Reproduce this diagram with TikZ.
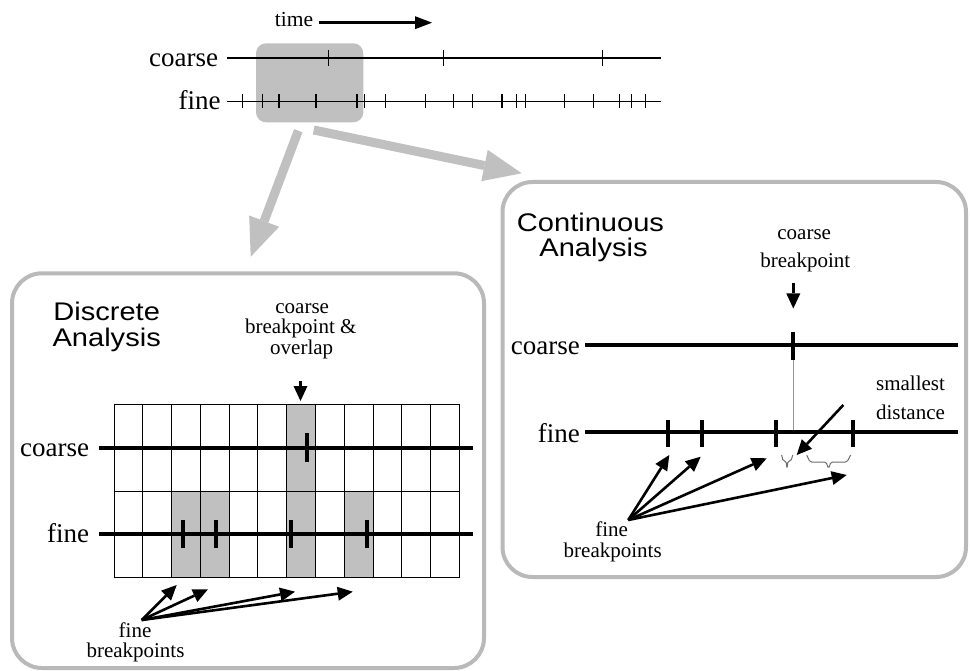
\documentclass[tikz,border=0pt]{standalone}
\usepackage{fontspec}
\setmainfont{Liberation Serif}
\newfontfamily\hv[FakeStretch=1.14]{Liberation Sans}
\usetikzlibrary{arrows.meta}
\definecolor{boxgray}{RGB}{185,185,185}
\definecolor{arrgray}{RGB}{192,192,192}
\definecolor{cellgray}{RGB}{192,192,192}
\definecolor{bracegray}{RGB}{110,110,110}
\definecolor{linegray}{RGB}{150,150,150}
\begin{document}
\begin{tikzpicture}[x=1pt,y=-1pt,
  lbl/.style={inner sep=0pt, font=\fontsize{27}{27}\selectfont},
  small/.style={inner sep=0pt, font=\fontsize{21}{21}\selectfont},
  titletext/.style={inner sep=0pt, font=\hv\fontsize{25.5}{26}\selectfont},
  thinline/.style={line width=1.2pt},
  thickline/.style={line width=4pt},
  tickthin/.style={line width=1.1pt},
  tickthick/.style={line width=4pt},
  panel/.style={draw=boxgray, line width=4pt, fill=white, rounded corners=30pt, inner sep=0pt},
  bigarrow/.style={draw=arrgray, line width=9pt, -{Triangle[length=38pt,width=32pt,line width=0pt]}},
  blackarrow/.style={line width=2.6pt, -{Triangle[length=15pt,width=14pt,line width=0pt]}},
  gridline/.style={line width=0.9pt},
  bracestyle/.style={draw=bracegray, line width=1pt, rounded corners=1.5pt},
]
\useasboundingbox (0,0) rectangle (970,671);

% ---------------- top timelines ----------------
\node[fill=cellgray, rounded corners=10pt, minimum width=107.3pt, minimum height=79pt, inner sep=0pt] (sel) at (309.65,82.8) {};

\node[small, font=\fontsize{21.5}{21.5}\selectfont, anchor=base east] (time) at (313.3,26.7) {time};
\coordinate (ts) at (319,22.7);
\coordinate (te) at (432,22.7);
\draw[line width=2.5pt, -{Triangle[length=17pt,width=13pt,line width=0pt]}] (ts) -- (te);

\node[lbl, anchor=base east] (tcoarse) at (218.3,66.5) {coarse};
\node[lbl, anchor=base east] (tfine) at (220.7,110) {fine};
\coordinate (tcs) at (227,58);
\coordinate (tce) at (661,58);
\coordinate (tfs) at (227,101.5);
\coordinate (tfe) at (661,101.5);
\draw[thinline] (tcs) -- (tce);
\draw[thinline] (tfs) -- (tfe);
\foreach \x in {328.3,443.3,602.7} \draw[tickthin] (\x,50) -- (\x,66);
\foreach \x in {242.3,262.3,279,316,357,364.3,385.7,425.7,453.3,472.3,502,516.7,525.7,564.3,593.3,619.3,631.7,645.3}
  \draw[tickthin] (\x,94.5) -- (\x,108.5);

% ---------------- big gray arrows ----------------
\coordinate (a1s) at (298.3,130.7);
\coordinate (a1e) at (250.7,256.7);
\coordinate (a2s) at (313.7,130);
\coordinate (a2e) at (521.7,173.3);
\draw[bigarrow] (a1s) -- (a1e);
\draw[bigarrow] (a2s) -- (a2e);

% ---------------- panels ----------------
\node[panel, minimum width=472pt, minimum height=394.7pt] (dpanel) at (248,470.65) {};
\node[panel, minimum width=463.5pt, minimum height=395pt] (cpanel) at (734.25,379.5) {};

% ---------------- discrete analysis ----------------
\node[titletext, anchor=base] (dt1) at (106.7,320.3) {Discrete};
\node[titletext, anchor=base] (dt2) at (106.7,346.7) {Analysis};

\node[small, anchor=base] (dl1) at (302.2,314) {coarse};
\node[small, anchor=base] (dl2) at (300.8,334) {breakpoint \&};
\node[small, anchor=base] (dl3) at (301.7,354) {overlap};
\coordinate (dds) at (300.5,381);
\coordinate (dde) at (300.5,401);
\draw[blackarrow, line width=2.4pt] (dds) -- (dde);

% gray cells
\fill[cellgray] (286.7,404.3) rectangle (315.5,577.7);
\fill[cellgray] (171.6,491.7) rectangle (229.1,577.7);
\fill[cellgray] (344.2,491.7) rectangle (373.0,577.7);
% grid
\foreach \i in {0,...,12} \draw[gridline] ({114+\i*28.775},404.3) -- ({114+\i*28.775},577.7);
\foreach \y in {404.3,491.7,577.7} \draw[gridline] (114,\y) -- (459.3,\y);

\node[lbl, anchor=base east] (dcoarse) at (89.3,456) {coarse};
\node[lbl, anchor=base east] (dfine) at (89.3,542.7) {fine};
\coordinate (dcs) at (99,447.7);
\coordinate (dce) at (472.7,447.7);
\coordinate (dfs) at (99,534);
\coordinate (dfe) at (472.7,534);
\draw[thickline] (dcs) -- (dce);
\draw[thickline] (dfs) -- (dfe);
\draw[tickthick] (306.7,433) -- (306.7,462);
\foreach \x in {182.7,216,290.7,367.3} \draw[tickthick] (\x,520) -- (\x,548);

\coordinate (dfo) at (141.7,620);
\coordinate (dft1) at (176.7,585);
\coordinate (dft2) at (208,589.3);
\coordinate (dft3) at (295,591.7);
\coordinate (dft4) at (352.7,591.7);
\foreach \t in {dft1,dft2,dft3,dft4} \draw[blackarrow] (dfo) -- (\t);
\node[small, anchor=base] (dfb1) at (135,637.3) {fine};
\node[small, anchor=base] (dfb2) at (135.5,657.3) {breakpoints};

% ---------------- continuous analysis ----------------
\node[titletext, anchor=base] (ct1) at (590.5,231.7) {Continuous};
\node[titletext, anchor=base] (ct2) at (593.5,256.7) {Analysis};

\node[small, anchor=base] (cl1) at (804.2,240) {coarse};
\node[small, anchor=base] (cl2) at (805.3,267.3) {breakpoint};
\coordinate (cds) at (793.3,283);
\coordinate (cde) at (793.3,308.5);
\draw[blackarrow, line width=2.4pt] (cds) -- (cde);

\node[lbl, anchor=base east] (ccoarse) at (580,355) {coarse};
\node[lbl, anchor=base east] (cfine) at (580,442.7) {fine};
\coordinate (ccs) at (585,345);
\coordinate (cce) at (958,345);
\coordinate (cfs) at (585,432.3);
\coordinate (cfe) at (958,432.3);
\coordinate (cv1) at (793,360);
\coordinate (cv2) at (793,432.3);
\draw[draw=linegray, line width=0.9pt] (cv1) -- (cv2);
\draw[thickline] (ccs) -- (cce);
\draw[thickline] (cfs) -- (cfe);
\draw[tickthick] (792.7,331.7) -- (792.7,360);
\foreach \x in {668.3,701.7,776,852.7} \draw[tickthick] (\x,420) -- (\x,446.7);

\node[small, anchor=base] (sd1) at (910.5,390.7) {smallest};
\node[small, anchor=base] (sd2) at (910.5,419) {distance};
\coordinate (sds) at (843.3,405);
\coordinate (sde) at (796.7,455);
\draw[blackarrow] (sds) -- (sde);

% braces
\draw[bracestyle] (781.7,455) -- (783,461) -- (786,461) -- (787,468.5) -- (788,461) -- (791,461) -- (792.7,455);
\draw[bracestyle] (806.7,455) -- (810,462) -- (826,462) -- (828.5,468.5) -- (831,462) -- (847,462) -- (850.7,455);

\coordinate (cfo) at (628.3,520);
\coordinate (cft1) at (669.3,455);
\coordinate (cft2) at (700.7,456.7);
\coordinate (cft3) at (766.7,458.3);
\coordinate (cft4) at (846.7,475);
\foreach \t in {cft1,cft2,cft3,cft4} \draw[blackarrow] (cfo) -- (\t);
\node[small, anchor=base] (cfb1) at (611.7,536.7) {fine};
\node[small, anchor=base] (cfb2) at (612.7,557.3) {breakpoints};

\end{tikzpicture}
\end{document}
